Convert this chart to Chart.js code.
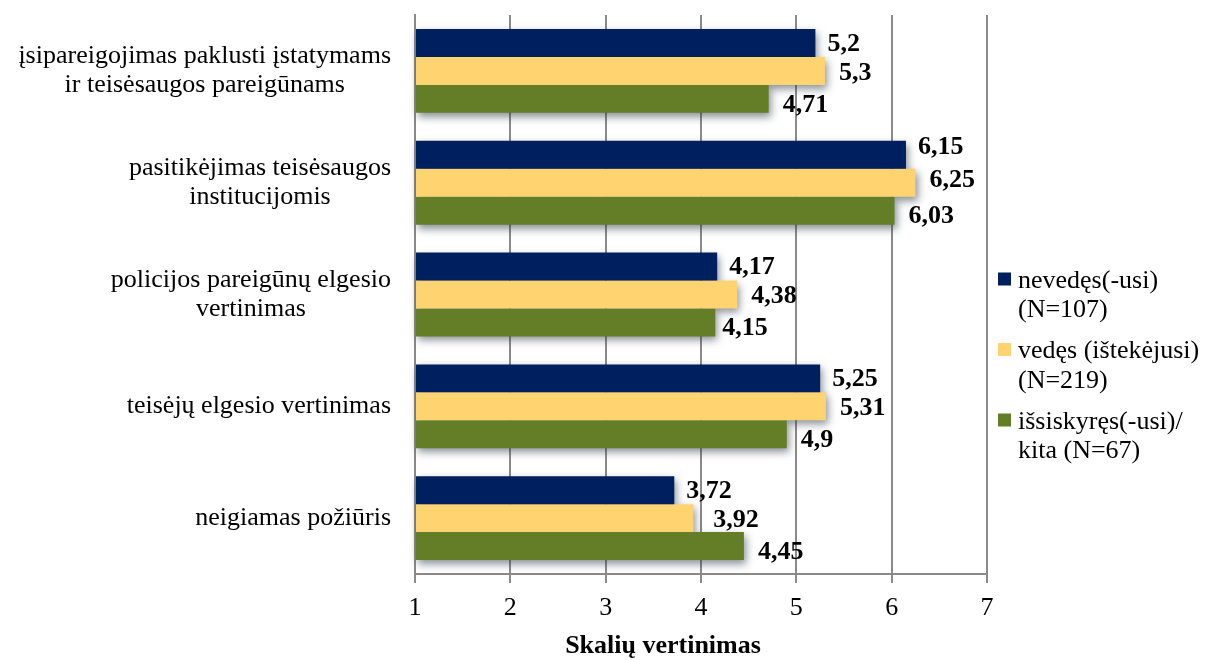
<!DOCTYPE html>
<html lang="lt">
<head>
<meta charset="utf-8">
<title>Skalių vertinimas</title>
<script src="https://cdn.jsdelivr.net/npm/chart.js@4/dist/chart.umd.min.js"></script>
<style>
  html, body { margin: 0; padding: 0; background: #ffffff; }
  #wrap { width: 1208px; height: 660px; position: relative; }
</style>
</head>
<body>
<div id="wrap"><canvas id="chart" width="1208" height="660"></canvas></div>
<script>
// Scale categories (multi-line labels are arrays of lines)
const categories = [
  ['įsipareigojimas paklusti įstatymams', 'ir teisėsaugos pareigūnams'],
  ['pasitikėjimas teisėsaugos', 'institucijomis'],
  ['policijos pareigūnų elgesio', 'vertinimas'],
  ['teisėjų elgesio vertinimas'],
  ['neigiamas požiūris']
];

// Mean scale scores by marital status
const nevedes = [5.2, 6.15, 4.17, 5.25, 3.72];
const vedes = [5.3, 6.25, 4.38, 5.31, 3.92];
const issiskyres = [4.71, 6.03, 4.15, 4.9, 4.45];

const seriesNames = [
  ['nevedęs(-usi)', '(N=107)'],
  ['vedęs (ištekėjusi)', '(N=219)'],
  ['išsiskyręs(-usi)/', 'kita (N=67)']
];
const seriesColors = ['#001f5f', '#ffd470', '#647d27'];

const axisTitle = 'Skalių vertinimas';
const xMin = 1, xMax = 7;

const SERIF = '"Liberation Serif", "Times New Roman", serif';
const GRID = '#8a8a8a';

const fmt = v => String(v).replace('.', ',');

// Soft drop shadow under every bar, painted before the bars themselves
const barShadow = {
  id: 'barShadow',
  beforeDatasetsDraw(chart) {
    const ctx = chart.ctx;
    const far = 10000;
    ctx.save();
    ctx.shadowColor = 'rgba(40, 52, 66, 0.55)';
    ctx.shadowBlur = 8;
    ctx.shadowOffsetX = far + 2;
    ctx.shadowOffsetY = 4;
    ctx.fillStyle = '#000';
    chart.data.datasets.forEach((ds, i) => {
      chart.getDatasetMeta(i).data.forEach(el => {
        const p = el.getProps(['x', 'y', 'base', 'height'], true);
        const left = Math.min(p.base, p.x);
        ctx.fillRect(left - far, p.y - p.height / 2, Math.abs(p.x - p.base), p.height);
      });
    });
    ctx.restore();
  }
};

// Bold value labels to the right of each bar
const valueLabels = {
  id: 'valueLabels',
  afterDatasetsDraw(chart, args, opts) {
    const ctx = chart.ctx;
    ctx.save();
    ctx.font = opts.font;
    ctx.fillStyle = '#000';
    ctx.textAlign = 'left';
    ctx.textBaseline = 'middle';
    chart.data.datasets.forEach((ds, i) => {
      chart.getDatasetMeta(i).data.forEach((el, j) => {
        const p = el.getProps(['x', 'y'], true);
        const n = opts.nudge[i + ',' + j] || [0, 0];
        ctx.fillText(fmt(ds.data[j]), p.x + opts.gap[i] + n[0], p.y + opts.shift[i] + n[1]);
      });
    });
    ctx.restore();
  }
};

// Category labels: each block sits against the axis, its lines centred within it
const categoryLabels = {
  id: 'categoryLabels',
  afterDraw(chart, args, opts) {
    const ctx = chart.ctx;
    const yScale = chart.scales.y;
    const rightEdge = chart.chartArea.left - opts.gap;
    ctx.save();
    ctx.font = opts.font;
    ctx.fillStyle = '#000';
    ctx.textAlign = 'center';
    ctx.textBaseline = 'middle';
    categories.forEach((lines, i) => {
      const y = yScale.getPixelForTick(i);
      const w = Math.max(...lines.map(l => ctx.measureText(l).width));
      const cx = rightEdge - w / 2;
      const y0 = y - (lines.length - 1) * opts.lineHeight / 2;
      lines.forEach((l, k) => ctx.fillText(l, cx, y0 + k * opts.lineHeight));
    });
    ctx.restore();
  }
};

// Horizontal axis title below the tick labels
const axisTitleLabel = {
  id: 'axisTitleLabel',
  afterDraw(chart, args, opts) {
    const ctx = chart.ctx;
    const area = chart.chartArea;
    ctx.save();
    ctx.font = opts.font;
    ctx.fillStyle = '#000';
    ctx.textAlign = 'center';
    ctx.textBaseline = 'middle';
    ctx.fillText(axisTitle, (area.left + area.right) / 2 + opts.dx, area.bottom + opts.dy);
    ctx.restore();
  }
};

// Legend on the right with two-line entries
const sideLegend = {
  id: 'sideLegend',
  afterDraw(chart, args, opts) {
    const ctx = chart.ctx;
    const x0 = chart.chartArea.right + opts.offsetX;
    ctx.save();
    ctx.font = opts.font;
    ctx.textAlign = 'left';
    ctx.textBaseline = 'middle';
    chart.data.datasets.forEach((ds, i) => {
      const top = opts.top + i * opts.entryGap;
      ctx.fillStyle = ds.backgroundColor;
      ctx.fillRect(x0, top - opts.box / 2 - 2, opts.box, opts.box);
      ctx.fillStyle = '#000';
      ds.label.forEach((line, k) => {
        ctx.fillText(line, x0 + opts.box + 7, top + k * opts.lineHeight);
      });
    });
    ctx.restore();
  }
};

const datasets = [nevedes, vedes, issiskyres].map((values, i) => ({
  label: seriesNames[i],
  data: values,
  base: xMin,
  backgroundColor: seriesColors[i],
  borderWidth: 0,
  categoryPercentage: 0.75,
  barPercentage: 1.0
}));

new Chart(document.getElementById('chart'), {
  type: 'bar',
  data: { labels: categories.map(c => c.join(' ')), datasets },
  options: {
    indexAxis: 'y',
    responsive: false,
    animation: false,
    layout: { padding: { top: 15, right: 221, bottom: 0, left: 0 } },
    plugins: {
      legend: { display: false },
      tooltip: { enabled: false },
      valueLabels: {
        font: 'bold 26px ' + SERIF,
        gap: [12, 14, 14],
        shift: [1, 2, 6],
        nudge: { '0,1': [0, -8], '1,1': [0, -4], '2,2': [-7, 0], '1,4': [6, 0] }
      },
      categoryLabels: { font: '26px ' + SERIF, gap: 24, lineHeight: 29 },
      axisTitleLabel: { font: 'bold 26px ' + SERIF, dx: -38, dy: 72 },
      sideLegend: { font: '26px ' + SERIF, offsetX: 11, top: 281, entryGap: 70.5, lineHeight: 29.5, box: 13 }
    },
    scales: {
      x: {
        type: 'linear',
        min: xMin,
        max: xMax,
        ticks: {
          stepSize: 1,
          color: '#000',
          padding: 10,
          font: { family: SERIF, size: 26 }
        },
        grid: {
          color: GRID,
          lineWidth: 2,
          drawTicks: true,
          tickLength: 9,
          tickColor: GRID
        },
        border: { display: true, color: GRID, width: 2 },
        title: { display: false },
        afterFit(scale) { scale.height = 86; }
      },
      y: {
        type: 'category',
        ticks: { display: false },
        grid: { display: false, drawTicks: false },
        border: { display: true, color: GRID, width: 2 },
        afterFit(scale) { scale.width = 415; }
      }
    }
  },
  plugins: [barShadow, valueLabels, categoryLabels, axisTitleLabel, sideLegend]
});
</script>
</body>
</html>
